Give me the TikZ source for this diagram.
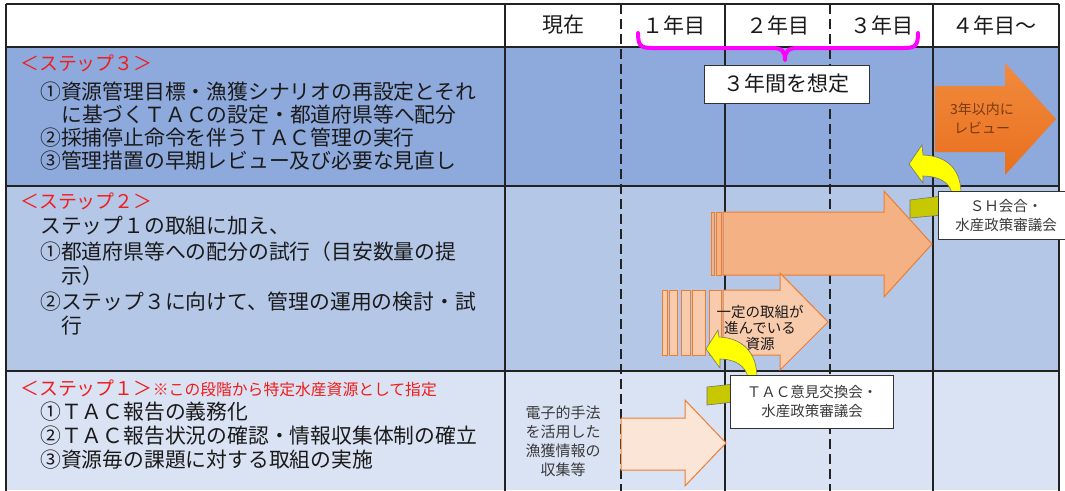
\documentclass[tikz,border=0pt]{standalone}
\usepackage{fontspec}
\setmainfont{Noto Sans CJK JP}
\definecolor{rowA}{HTML}{8EA9DB}
\definecolor{rowB}{HTML}{B4C7E7}
\definecolor{rowC}{HTML}{DAE3F3}
\definecolor{redtxt}{HTML}{F21C1C}
\definecolor{orgA}{HTML}{ED7D31}
\definecolor{orgB}{HTML}{F4B183}
\definecolor{orgC}{HTML}{F8CBAD}
\definecolor{orgD}{HTML}{FBE5D6}
\definecolor{orgTop}{HTML}{F28A3D}
\definecolor{orgBot}{HTML}{E8701E}
\definecolor{orgTxt}{HTML}{7A3A10}
\definecolor{yel}{HTML}{FFFF00}
\definecolor{olv}{HTML}{C8C800}
\definecolor{mag}{HTML}{FF00FF}
\definecolor{txt}{HTML}{1A1A1A}
\definecolor{gtxt}{HTML}{3A3A3A}
\definecolor{grid}{HTML}{222222}
\begin{document}
\begin{tikzpicture}[x=1pt,y=-1pt,
  body/.style={anchor=west,inner sep=0pt,text=txt,font=\fontsize{20.8}{22}\selectfont},
  redhd/.style={anchor=west,inner sep=0pt,text=redtxt,font=\fontsize{18.9}{20}\selectfont},
  redsm/.style={anchor=base west,inner sep=0pt,text=redtxt,font=\fontsize{15.8}{17}\selectfont},
  hdr/.style={inner sep=0pt,text=txt,font=\fontsize{21}{22}\selectfont},
  small/.style={inner sep=0pt,align=center,text=gtxt,font=\fontsize{14.5}{19}\selectfont},
  gridline/.style={draw=grid,line width=1.4pt},
  dashline/.style={draw=grid,line width=1.4pt,dash pattern=on 10pt off 5pt},
  labelbox/.style={draw=black!80,fill=white,line width=1pt,inner sep=0pt,align=center,text=gtxt,font=\fontsize{14.5}{19}\selectfont},
  blockarrow/.style={draw=orgA,line width=1pt},
  yelarrow/.style={fill=yel,draw=black!55,line width=0.6pt},
  olvpiece/.style={fill=olv,draw=black!55,line width=0.6pt}
]
\useasboundingbox (0,0) rectangle (1065,490);
\fill[white] (0,0) rectangle (1065,490);
% rows
\fill[white] (6,4) rectangle (1059,47);
\fill[rowA] (6,47) rectangle (1059,186);
\fill[rowB] (6,186) rectangle (1059,371);
\fill[rowC] (6,371) rectangle (1059,490);
% grid
\draw[gridline] (6,4) -- (1059,4);
\draw[gridline,line width=2pt] (6,47) -- (1059,47);
\draw[gridline,line width=2pt] (6,186) -- (1059,186);
\draw[gridline,line width=2pt] (6,371) -- (1059,371);
\foreach \xx in {6,505,725,933,1059} {\draw[gridline] (\xx,4) -- (\xx,491);}
\foreach \xx in {621,830} {\draw[dashline] (\xx,4) -- (\xx,491);}

% header
\node[hdr] (h0) at (563,25) {現在};
\node[hdr] (h1) at (674,25) {１年目};
\node[hdr] (h2) at (778,25) {２年目};
\node[hdr] (h3) at (882,25) {３年目};
\node[hdr] (h4) at (994,25) {４年目～};

% brace
\draw[mag,line width=4pt,line cap=round,line join=round]
  (638,33) .. controls (638,46) and (641,48) .. (652,48) -- (772,48)
  .. controls (782,48) and (785,51) .. (785,60)
  .. controls (785,51) and (788,48) .. (798,48) -- (904,48)
  .. controls (915,48) and (918,46) .. (918,33);
\node[labelbox,text=txt,font=\fontsize{21}{22}\selectfont,minimum width=165pt,minimum height=38pt] (three) at (786.5,84) {３年間を想定};

% step 3 text
\node[redhd] (s3h) at (20,63) {＜ステップ３＞};
\node[body] (s3a) at (40,92) {①資源管理目標・漁獲シナリオの再設定とそれ};
\node[body] (s3b) at (61,115) {に基づくＴＡＣの設定・都道府県等へ配分};
\node[body] (s3c) at (40,138) {②採捕停止命令を伴うＴＡＣ管理の実行};
\node[body] (s3d) at (40,161) {③管理措置の早期レビュー及び必要な見直し};

% step 2 text
\node[redhd] (s2h) at (20,201) {＜ステップ２＞};
\node[body] (s2a) at (40,226) {ステップ１の取組に加え、};
\node[body] (s2b) at (40,252) {①都道府県等への配分の試行（目安数量の提};
\node[body] (s2c) at (61,276) {示）};
\node[body] (s2d) at (40,302) {②ステップ３に向けて、管理の運用の検討・試};
\node[body] (s2e) at (61,326) {行};

% step 1 text
\node[redhd] (s1h) at (20,388) {＜ステップ１＞};
\node[redsm] (s1n) at (s1h.base east) {※この段階から特定水産資源として指定};
\node[body] (s1a) at (40,412) {①ＴＡＣ報告の義務化};
\node[body] (s1b) at (40,436) {②ＴＡＣ報告状況の確認・情報収集体制の確立};
\node[body] (s1c) at (40,460) {③資源毎の課題に対する取組の実施};

% step 3 orange arrow
\shade[top color=orgTop,bottom color=orgBot]
  (935,86) -- (1005,86) -- (1005,63) -- (1056,119) -- (1005,175) -- (1005,152) -- (935,152) -- cycle;
\node[inner sep=0pt,align=center,text=orgTxt,font=\fontsize{14}{19}\selectfont] (rev) at (982,118) {3年以内に\\レビュー};

% step 2 big arrow
\foreach \a/\b in {711/714,716/721} {\filldraw[blockarrow,fill=orgB] (\a,212) rectangle (\b,275);}
\filldraw[blockarrow,fill=orgB]
  (723,212) -- (884,212) -- (884,191) -- (932,244) -- (884,297) -- (884,275) -- (723,275) -- cycle;

% step 2 small arrow
\foreach \a/\b in {662/667,669/677,681/690,692/705,709/721} {\filldraw[blockarrow,fill=orgC] (\a,290) rectangle (\b,355);}
\filldraw[blockarrow,fill=orgC]
  (723,290) -- (780,290) -- (780,273) -- (828,322) -- (780,370) -- (780,355) -- (723,355) -- cycle;
\node[small,text=txt,font=\fontsize{14.5}{16}\selectfont] (prog) at (760,328) {一定の取組が\\進んでいる\\資源};

% step 1 arrow
\filldraw[blockarrow,fill=orgD]
  (621,418) -- (685,418) -- (685,400) -- (726,443) -- (685,486) -- (685,470) -- (621,470) -- cycle;
\node[small,font=\fontsize{15}{19}\selectfont] (elec) at (563,441) {電子的手法\\を活用した\\漁獲情報の\\収集等};

% yellow curved arrows
\filldraw[olvpiece] (910,200) -- (942,196) -- (942,215) -- (910,218) -- cycle;
\filldraw[yelarrow] (961,194) .. controls (961,170) and (948,156) .. (923,155) -- (922,145) -- (909,164) -- (923,183) -- (923,176) .. controls (938,176) and (950,182) .. (952,194) -- cycle;
\filldraw[olvpiece] (707,387) -- (734,384) -- (734,402) -- (707,405) -- cycle;
\filldraw[yelarrow] (757,378) .. controls (757,352) and (742,338) .. (719,337) -- (718,330) -- (706,349) -- (720,368) -- (720,359) .. controls (735,359) and (746,366) .. (748,378) -- cycle;

% label boxes
\node[labelbox,anchor=north west,minimum width=135pt,minimum height=48pt] (sh) at (938,191) {ＳＨ会合・\\水産政策審議会};
\node[labelbox,anchor=north west,minimum width=163pt,minimum height=53pt] (tac) at (730,375) {ＴＡＣ意見交換会・\\水産政策審議会};
\end{tikzpicture}
\end{document}
